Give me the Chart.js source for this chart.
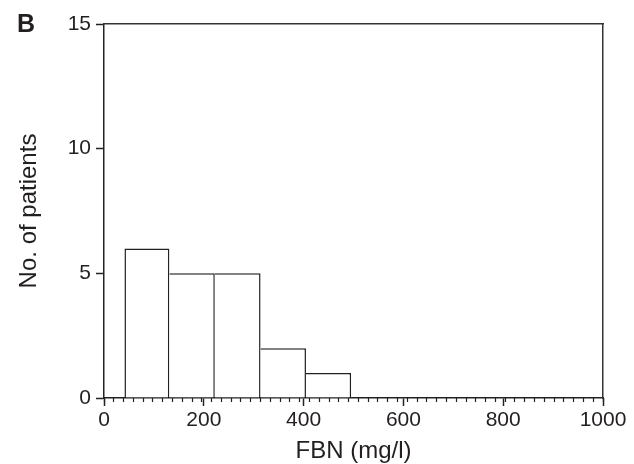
<!DOCTYPE html>
<html>
<head>
<meta charset="utf-8">
<script src="https://cdn.jsdelivr.net/npm/chart.js@4"></script>
<style>
  html, body { margin: 0; padding: 0; background: #fff; }
  #wrap { width: 634px; height: 464px; }
</style>
</head>
<body>
<div id="wrap"><canvas id="histChart"></canvas></div>
<script>
// histogram bins (mg/l) and counts per bin
const binEdges = [41, 131, 221, 315, 404, 496];
const patientCounts = [6, 5, 5, 2, 1];
const xTicks = [0, 200, 400, 600, 800, 1000];
const yTicks = [0, 5, 10, 15];

const ink = "#231f20";
const font = "'Liberation Sans', Arial, sans-serif";
const lineW = 1.5;

// bars sit at bin centres, flex width fills each bin
const points = patientCounts.map((n, i) => ({
  x: (binEdges[i] + binEdges[i + 1]) / 2,
  y: n,
}));

// shared bin edges are stroked once, by the taller of the two bars
function edgeWidths(ctx) {
  const i = ctx.dataIndex;
  const h = patientCounts;
  const last = h.length - 1;
  return {
    top: lineW,
    bottom: 0,
    left: i === 0 || h[i] > h[i - 1] ? lineW : 0,
    right: i === last || h[i] >= h[i + 1] ? lineW : 0,
  };
}

const panelLetter = {
  id: "panelLetter",
  afterDraw(chart) {
    const ctx = chart.ctx;
    ctx.save();
    ctx.fillStyle = ink;
    ctx.font = "bold 25px " + font;
    ctx.textBaseline = "alphabetic";
    ctx.fillText("B", 17, 32);
    ctx.restore();
  },
};

const bareAxis = (position) => ({
  type: "linear",
  position: position,
  display: true,
  ticks: { display: false },
  grid: { drawOnChartArea: false, drawTicks: false },
  border: { display: true, color: "#333", width: lineW },
});

new Chart(document.getElementById("histChart"), {
  type: "bar",
  data: {
    datasets: [
      {
        data: points,
        backgroundColor: "#ffffff",
        borderColor: "#222",
        borderWidth: edgeWidths,
        borderSkipped: false,
        inflateAmount: 0,
        barThickness: "flex",
        barPercentage: 1,
        categoryPercentage: 1,
      },
    ],
  },
  options: {
    responsive: true,
    maintainAspectRatio: false,
    animation: false,
    layout: { padding: { top: 24, right: 31, bottom: 0, left: 0 } },
    plugins: { legend: { display: false }, tooltip: { enabled: false } },
    scales: {
      x: {
        type: "linear",
        position: "bottom",
        min: 0,
        max: 1000,
        offset: false,
        afterBuildTicks: (s) => { s.ticks = xTicks.map((v) => ({ value: v })); },
        afterFit: (s) => { s.height = 66; },
        ticks: {
          color: ink,
          font: { family: font, size: 21 },
          padding: 2,
          maxRotation: 0,
          callback: (v) => String(v),
        },
        grid: { offset: false, drawOnChartArea: false, tickLength: 8, tickColor: "#222", tickWidth: lineW },
        border: { color: "#222", width: lineW },
        title: {
          display: true,
          text: "FBN (mg/l)",
          color: ink,
          font: { family: font, size: 24 },
          padding: { top: 0, bottom: -2 },
        },
      },
      // minor ticks every 20 mg/l along the bottom axis
      xMinor: {
        type: "linear",
        axis: "x",
        position: { y: 0 },
        min: 0,
        max: 1000,
        ticks: { display: false, stepSize: 20 },
        grid: { drawOnChartArea: false, tickLength: 4, tickColor: "#222", tickWidth: 1.2 },
        border: { display: false },
      },
      y: {
        type: "linear",
        position: "left",
        min: 0,
        max: 15,
        afterBuildTicks: (s) => { s.ticks = yTicks.map((v) => ({ value: v })); },
        afterFit: (s) => { s.width = 104; },
        ticks: { color: ink, font: { family: font, size: 21 }, padding: 5 },
        grid: { drawOnChartArea: false, tickLength: 8, tickColor: "#222", tickWidth: lineW },
        border: { color: "#222", width: lineW },
        title: {
          display: true,
          text: "No. of patients",
          color: ink,
          font: { family: font, size: 24 },
          padding: { top: 15, bottom: 0 },
        },
      },
      xTop: Object.assign(bareAxis("top"), { axis: "x" }),
      yRight: Object.assign(bareAxis("right"), { axis: "y" }),
    },
  },
  plugins: [panelLetter],
});
</script>
</body>
</html>
